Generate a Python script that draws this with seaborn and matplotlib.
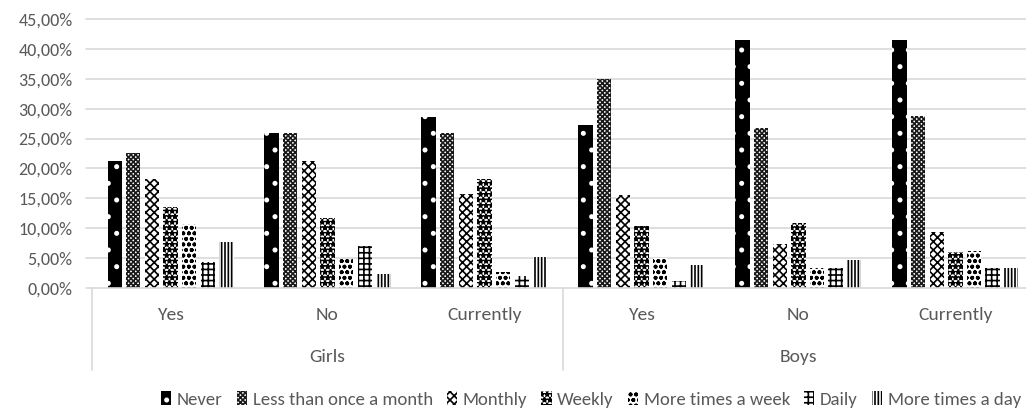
import matplotlib
matplotlib.use("Agg")
import matplotlib.pyplot as plt
from matplotlib.patches import Patch
from matplotlib.ticker import FuncFormatter, MultipleLocator
import seaborn as sns
import pandas as pd

groups = ["Girls", "Boys"]
answers = ["Yes", "No", "Currently"]
frequencies = ["Never", "Less than once a month", "Monthly", "Weekly",
               "More times a week", "Daily", "More times a day"]

# values in percent, one list per frequency, order: Girls Yes/No/Currently, Boys Yes/No/Currently
never = [21.2, 25.9, 28.6, 27.3, 41.5, 41.5]
less_than_monthly = [22.6, 25.9, 25.9, 35.0, 26.8, 28.8]
monthly = [18.3, 21.2, 15.7, 15.6, 7.3, 9.4]
weekly = [13.6, 11.7, 18.3, 10.3, 10.9, 6.1]
more_week = [10.7, 4.8, 2.7, 5.0, 3.4, 6.2]
daily = [4.4, 7.1, 2.0, 1.1, 3.4, 3.3]
more_day = [7.7, 2.3, 5.1, 3.8, 4.7, 3.3]

series = [never, less_than_monthly, monthly, weekly, more_week, daily, more_day]

cats = [f"{g} {a}" for g in groups for a in answers]
rows = []
for f, vals in zip(frequencies, series):
    for c, v in zip(cats, vals):
        rows.append({"cat": c, "freq": f, "value": v})
df = pd.DataFrame(rows)

sns.set_theme(style="white")
plt.rcParams['font.family'] = ['Carlito', 'DejaVu Sans']
plt.rcParams['hatch.linewidth'] = 1.2

TXT = "#595959"
GRID = "#d9d9d9"

fig = plt.figure(figsize=(10.26, 4.12), dpi=100)
ax = fig.add_axes([0.0897, 0.301, 0.918, 0.653])

sns.barplot(data=df, x="cat", y="value", hue="freq", order=cats,
            hue_order=frequencies, width=0.83, gap=0.23, ax=ax,
            legend=False, palette=["white"] * 7, linewidth=0)

styles = [
    dict(face="black", edge="white", hatch="."),
    dict(face="white", edge="#1a1a1a", hatch="xxxxxxx"),
    dict(face="white", edge="black", hatch="xxxx"),
    dict(face="white", edge="black", hatch="***"),
    dict(face="white", edge="black", hatch="ooo"),
    dict(face="white", edge="black", hatch="+++"),
    dict(face="white", edge="black", hatch="|||||"),
]
for cont, st in zip(ax.containers, styles):
    for bar in cont:
        bar.set_facecolor(st["face"])
        bar.set_edgecolor(st["edge"])
        bar.set_hatch(st["hatch"])
        bar.set_linewidth(0)

ax.set_ylim(0, 45)
ax.yaxis.set_major_locator(MultipleLocator(5))
ax.yaxis.set_major_formatter(FuncFormatter(lambda v, p: f"{v:.2f}%".replace(".", ",")))
ax.grid(False)
for yv in range(5, 50, 5):
    ax.axhline(yv, xmin=-0.0065, xmax=1, color=GRID, linewidth=1.2, clip_on=False, zorder=0)
ax.axhline(0, xmin=-0.0065, xmax=0, color=GRID, linewidth=1.2, clip_on=False, zorder=0)
ax.set_axisbelow(True)
for s in ["top", "right", "left"]:
    ax.spines[s].set_visible(False)
ax.spines["bottom"].set_color(GRID)
ax.spines["bottom"].set_linewidth(1.2)
ax.tick_params(axis="y", colors=TXT, labelsize=13, length=0, pad=14)
ax.tick_params(axis="x", colors=TXT, labelsize=14, length=0, pad=14)
ax.set_xticks(range(6))
ax.set_xticklabels(answers * 2)
ax.set_xlim(-0.5, 5.5)
ax.set_xlabel("")
ax.set_ylabel("")

# group labels and separators
for i, g in enumerate(groups):
    ax.text(1 + 3 * i, -0.255, g, transform=ax.get_xaxis_transform(),
            ha="center", va="center", fontsize=14, color=TXT)
for xpos in [-0.5, 2.5]:
    ax.plot([xpos, xpos], [0, -0.305], transform=ax.get_xaxis_transform(),
            color=GRID, linewidth=1.2, clip_on=False)

handles = [Patch(facecolor=st["face"], edgecolor=st["edge"], hatch=st["hatch"], linewidth=0)
           for st in styles]
fig.legend(handles, frequencies, loc="center", bbox_to_anchor=(0.576, 0.03), ncol=7,
           frameon=False, fontsize=13.5, handlelength=0.55, handleheight=0.75,
           handletextpad=0.3, columnspacing=0.75, labelcolor=TXT, borderpad=0)

fig.savefig("out.png", dpi=100)
